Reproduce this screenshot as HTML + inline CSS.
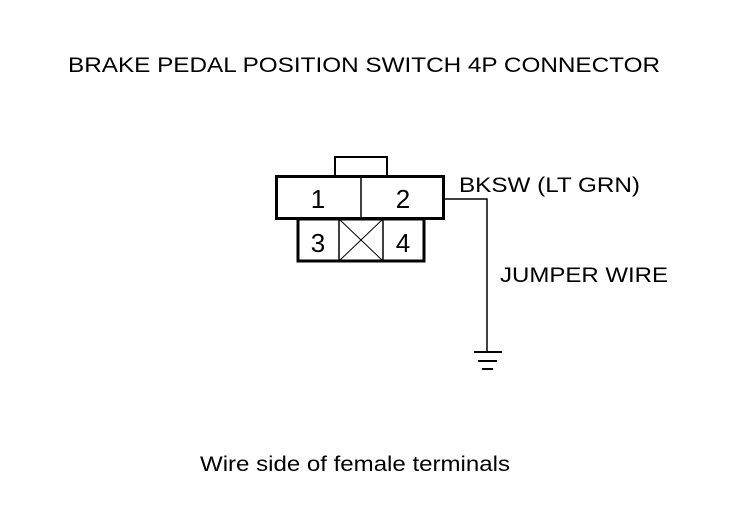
<!DOCTYPE html>
<html><head><style>
body{margin:0;background:#fff;}
svg{display:block;}
text{font-family:"Liberation Sans",sans-serif;fill:#000;}
</style></head><body>
<svg width="736" height="528" viewBox="0 0 736 528">
<text x="68" y="72" font-size="21" textLength="592" lengthAdjust="spacingAndGlyphs">BRAKE PEDAL POSITION SWITCH 4P CONNECTOR</text>
<rect x="335" y="157" width="52" height="19" fill="none" stroke="#000" stroke-width="2"/>
<rect x="276.5" y="176.5" width="167" height="42" fill="#fff" stroke="#000" stroke-width="3"/>
<line x1="361" y1="177" x2="361" y2="218" stroke="#000" stroke-width="1.5"/>
<rect x="298" y="219" width="126" height="42" fill="none" stroke="#000" stroke-width="3"/>
<line x1="339" y1="219" x2="339" y2="261" stroke="#000" stroke-width="1.5"/>
<line x1="383" y1="219" x2="383" y2="261" stroke="#000" stroke-width="1.5"/>
<line x1="339" y1="219" x2="383" y2="261" stroke="#000" stroke-width="1"/>
<line x1="383" y1="219" x2="339" y2="261" stroke="#000" stroke-width="1"/>
<text x="318" y="208" font-size="26" text-anchor="middle">1</text>
<text x="403" y="208" font-size="26" text-anchor="middle">2</text>
<text x="318" y="252" font-size="26" text-anchor="middle">3</text>
<text x="403" y="252" font-size="26" text-anchor="middle">4</text>
<polyline points="445,199 487,199 487,352" fill="none" stroke="#000" stroke-width="1.5"/>
<line x1="474" y1="352" x2="502" y2="352" stroke="#000" stroke-width="2"/>
<line x1="478" y1="361" x2="497" y2="361" stroke="#000" stroke-width="2"/>
<line x1="482" y1="369" x2="493" y2="369" stroke="#000" stroke-width="2"/>
<text x="459" y="192" font-size="21" textLength="181" lengthAdjust="spacingAndGlyphs">BKSW (LT GRN)</text>
<text x="500" y="282" font-size="21" textLength="168" lengthAdjust="spacingAndGlyphs">JUMPER WIRE</text>
<text x="200" y="471" font-size="21" textLength="310" lengthAdjust="spacingAndGlyphs">Wire side of female terminals</text>
</svg>
</body></html>
